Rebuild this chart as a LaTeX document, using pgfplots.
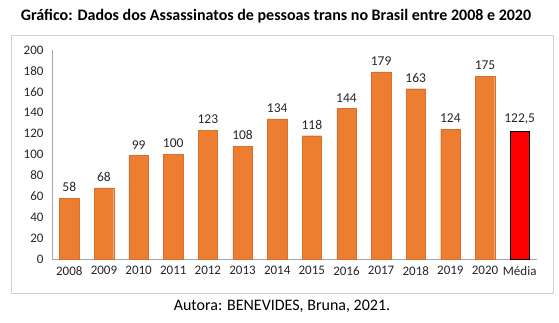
\documentclass[border=0pt]{standalone}
\usepackage{pgfplots}
\pgfplotsset{compat=1.18}
\usepackage{fontspec}
\setmainfont{Carlito}
\definecolor{barorange}{HTML}{ED7D31}
\definecolor{framegray}{HTML}{D0D0D0}
\definecolor{axisgray}{HTML}{A6A6A6}
\begin{document}
\begin{tikzpicture}[x=1pt,y=1pt]
\useasboundingbox (0,0) rectangle (559,322);
\draw[framegray, line width=0.8pt] (11,29) rectangle (553,287);
\node[font=\bfseries\fontsize{16}{18}\selectfont] at (276,306) {Gráfico: Dados dos Assassinatos de pessoas trans no Brasil entre 2008 e 2020};
\node[font=\fontsize{16}{18}\selectfont] at (282,16) {Autora: BENEVIDES, Bruna, 2021.};
\begin{axis}[
  at={(52pt,63pt)}, anchor=south west,
  scale only axis, width=485pt, height=209pt,
  ymin=0, ymax=200, ytick={0,20,...,200},
  xmin=-0.5, xmax=13.5,
  xtick={0,...,13},
  xticklabels={2008,2009,2010,2011,2012,2013,2014,2015,2016,2017,2018,2019,2020,Média},
  axis x line=bottom, axis y line=left,
  axis line style={-, axisgray, line width=0.8pt},
  major tick length=0pt,
  ticklabel style={font=\fontsize{13}{15}\selectfont, text=black!85},
  yticklabel style={xshift=-5pt},
  xticklabel style={yshift=-4pt},
  /pgf/number format/assume math mode=true,
  ybar, bar shift=0pt, bar width=0.56,
  nodes near coords={\pgfmathprintnumber[use comma]{\pgfplotspointmeta}},
  nodes near coords style={font=\fontsize{13.5}{15}\selectfont, text=black!85, yshift=3pt, /pgf/number format/assume math mode=true},
  clip=false,
]
\addplot[fill=barorange, draw=barorange!90!black, line width=0.3pt] coordinates {
(0,58) (1,68) (2,99) (3,100) (4,123) (5,108) (6,134) (7,118) (8,144) (9,179) (10,163) (11,124) (12,175)
};
\addplot[fill=red, draw=black, line width=0.8pt] coordinates {(13,122.5)};
\end{axis}
\end{tikzpicture}
\end{document}
